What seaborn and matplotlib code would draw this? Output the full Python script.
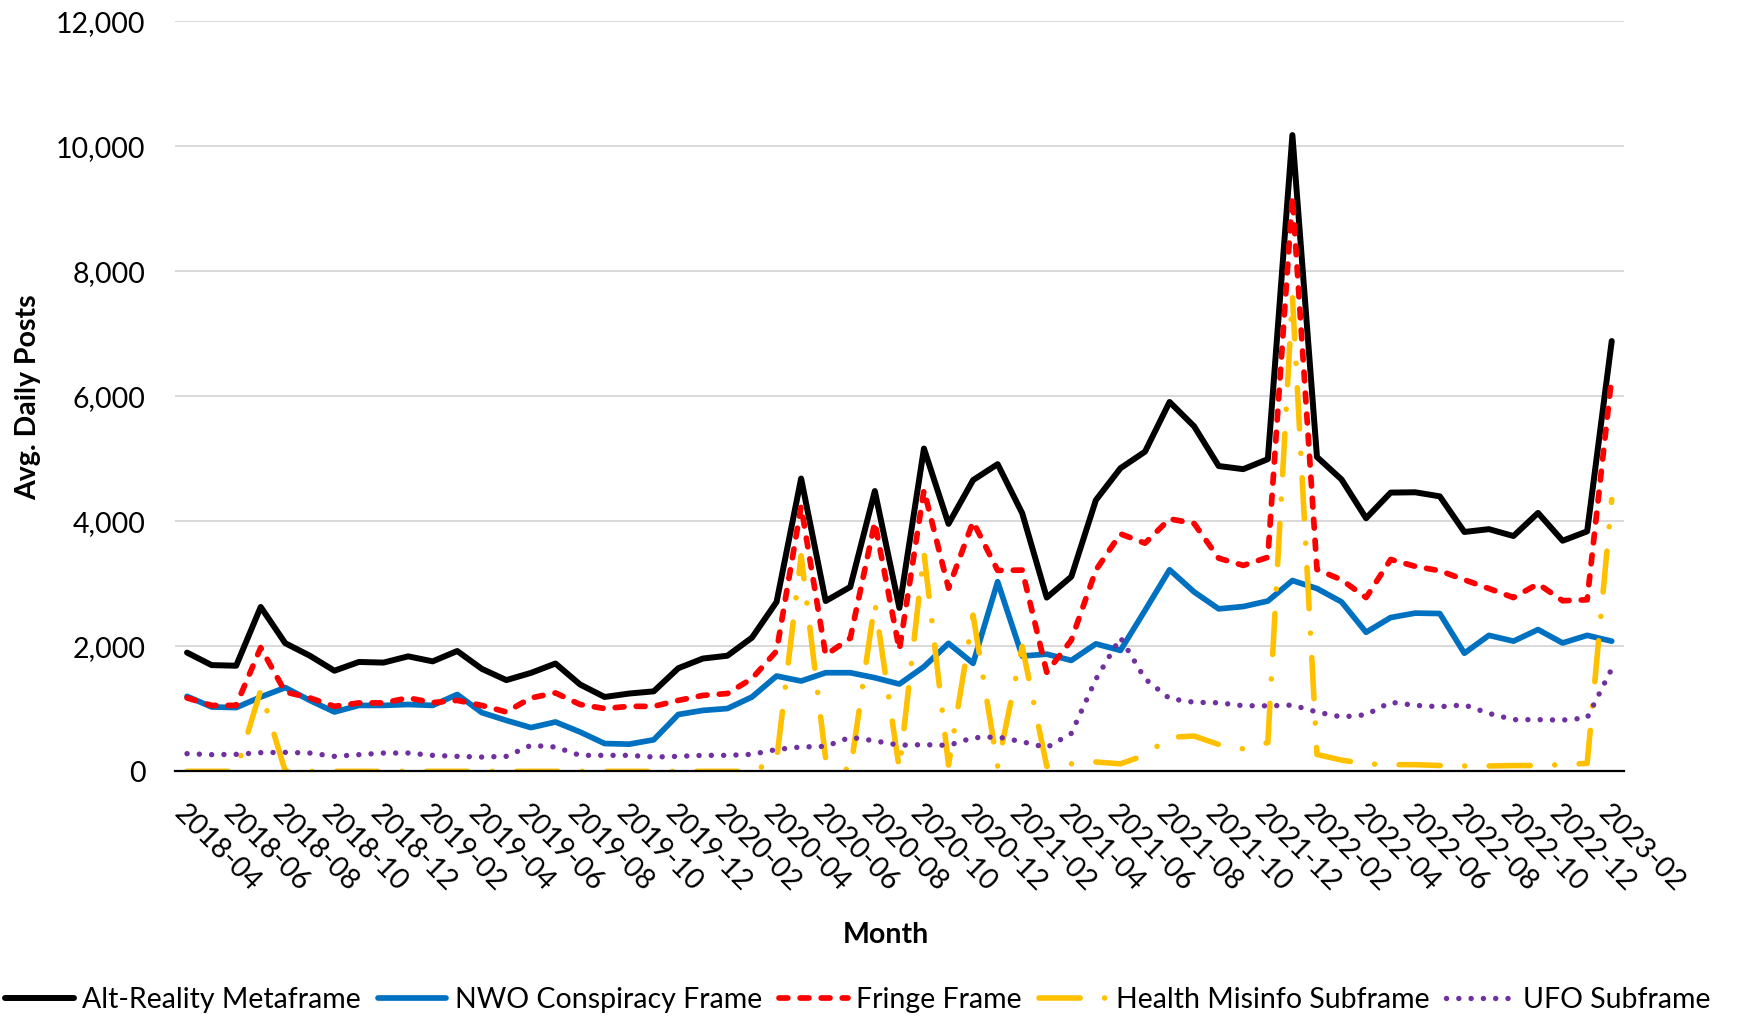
import numpy as np
import pandas as pd
import matplotlib
matplotlib.use("Agg")
import matplotlib.pyplot as plt
import seaborn as sns
from matplotlib.ticker import FuncFormatter, FixedLocator

# monthly averages, 2018-04 .. 2023-02
months = [str(p) for p in pd.period_range("2018-04", "2023-02", freq="M")]

alt_reality = [1900, 1700, 1690, 2630, 2050, 1850, 1610, 1750, 1740, 1840,
               1760, 1925, 1640, 1460, 1575, 1725, 1390, 1190, 1245, 1280,
               1650, 1805, 1850, 2140, 2710, 4685, 2725, 2950, 4485, 2615,
               5165, 3960, 4660, 4915, 4130, 2780, 3115, 4340, 4850, 5115,
               5910, 5520, 4885, 4835, 4995, 10180, 5030, 4670, 4050, 4460,
               4465, 4400, 3830, 3875, 3765, 4135, 3690, 3840, 6885]

nwo = [1200, 1030, 1020, 1190, 1340, 1135, 950, 1055, 1055, 1070,
       1055, 1230, 940, 815, 700, 790, 630, 445, 435, 505,
       910, 975, 1005, 1190, 1525, 1445, 1578, 1578, 1498, 1397,
       1674, 2048, 1728, 3034, 1845, 1875, 1775, 2040, 1935, 2575,
       3225, 2870, 2600, 2637, 2725, 3053, 2925, 2711, 2225, 2461,
       2532, 2525, 1890, 2176, 2083, 2268, 2054, 2176, 2083]

fringe = [1175, 1055, 1055, 1980, 1270, 1175, 1040, 1095, 1095, 1175,
          1100, 1135, 1055, 950, 1175, 1255, 1070, 1005, 1040, 1040,
          1135, 1215, 1245, 1485, 1925, 4240, 1860, 2130, 3985, 1945,
          4500, 2930, 3995, 3215, 3220, 1585, 2100, 3220, 3800, 3650,
          4040, 3965, 3410, 3295, 3425, 9200, 3230, 3065, 2780, 3390,
          3280, 3210, 3065, 2925, 2780, 3000, 2730, 2745, 6315]

health = [0, 0, 0, 1300, 0, 0, 0, 0, 0, 0,
          0, 0, 0, 0, 0, 0, 0, 0, 0, 0,
          0, 0, 0, 0, 180, 3450, 200, 0, 2700, 30,
          3500, 100, 2500, 80, 2000, 80, 120, 150, 120, 260,
          545, 565, 430, 360, 460, 7600, 270, 180, 120, 107,
          107, 93, 86, 86, 93, 93, 107, 128, 4350]

ufo = [283, 267, 272, 299, 304, 293, 240, 267, 293, 293,
       256, 240, 229, 240, 416, 389, 256, 256, 256, 229,
       240, 256, 256, 272, 350, 390, 400, 545, 488, 418,
       427, 415, 538, 550, 474, 380, 608, 1475, 2140, 1480,
       1165, 1105, 1097, 1050, 1048, 1060, 949, 870, 906, 1106,
       1056, 1034, 1063, 927, 827, 827, 820, 856, 1641]

df = pd.DataFrame({
    "Month": months,
    "pos": np.arange(len(months)),
    "Alt-Reality Metaframe": alt_reality,
    "NWO Conspiracy Frame": nwo,
    "Fringe Frame": fringe,
    "Health Misinfo Subframe": health,
    "UFO Subframe": ufo,
})

sns.set_style("white")
plt.rcParams["font.family"] = ["Lato", "DejaVu Sans"]
plt.rcParams["text.color"] = "black"
plt.rcParams["axes.labelcolor"] = "black"
plt.rcParams["xtick.color"] = "black"
plt.rcParams["ytick.color"] = "black"
FS = 20.5

fig = plt.figure(figsize=(17.44, 10.16), dpi=100)
ax = fig.add_axes([0.1002, 0.2408, 0.8310, 0.7382])

styles = {
    "Alt-Reality Metaframe": dict(color="black", linestyle="-", linewidth=4.3),
    "NWO Conspiracy Frame": dict(color="#0070C0", linestyle="-", linewidth=4.1),
    "Fringe Frame": dict(color="#FF0000", linestyle=(0, (1.55, 2.15)), linewidth=4.1,
                         dash_capstyle="round"),
    "Health Misinfo Subframe": dict(color="#FFC000", linestyle=(0, (7.4, 4.4, 0.01, 4.4)),
                                    linewidth=4.0, dash_capstyle="round"),
    "UFO Subframe": dict(color="#7030A0", linestyle=(0, (0.01, 2.26)), linewidth=3.9,
                         dash_capstyle="round"),
}

for name, st in styles.items():
    sns.lineplot(data=df, x="pos", y=name, ax=ax, label=name, **st)

ax.set_xlim(-0.5, len(months) - 0.5)
ax.set_ylim(0, 12000)
ax.set_yticks(np.arange(0, 12001, 2000))
ax.yaxis.set_major_formatter(FuncFormatter(lambda v, p: f"{int(v):,}"))
ax.yaxis.grid(True, color="#D9D9D9", linewidth=1.4)
ax.set_axisbelow(True)
ax.tick_params(axis="y", length=0, pad=21, labelsize=FS, labelcolor="black")

# labels every second month, tick marks between categories
ax.set_xticks(df["pos"][::2])
ax.set_xticklabels(df["Month"][::2])
ax.xaxis.set_minor_locator(FixedLocator(np.arange(-0.5, len(months), 1)))
ax.tick_params(axis="x", which="major", length=0, pad=21, labelsize=FS, labelcolor="black")
ax.tick_params(axis="x", which="minor", direction="inout", length=12, width=1.5, color="black")
plt.setp(ax.get_xticklabels(), rotation=-45, ha="left", va="top", rotation_mode="anchor")

for s in ["left", "right", "top"]:
    ax.spines[s].set_visible(False)
ax.spines["bottom"].set_color("black")
ax.spines["bottom"].set_linewidth(1.6)

ax.set_xlabel("Month", fontsize=FS, fontweight="bold", color="black")
ax.set_ylabel("Avg. Daily Posts", fontsize=FS, fontweight="bold", color="black")
ax.xaxis.set_label_coords(0.491, -0.218)
ax.yaxis.set_label_coords(-0.101, 0.499)
ax.xaxis.label.set_va("center")
ax.yaxis.label.set_va("center")

handles, labels = ax.get_legend_handles_labels()
ax.get_legend().remove()
fig.legend(handles, labels, loc="center", bbox_to_anchor=(0.492, 0.016), ncol=5,
           frameon=False, fontsize=FS, handlelength=2.4, handletextpad=0.3,
           columnspacing=0.6, borderaxespad=0, labelcolor="black")

fig.savefig("out.png", dpi=100)
